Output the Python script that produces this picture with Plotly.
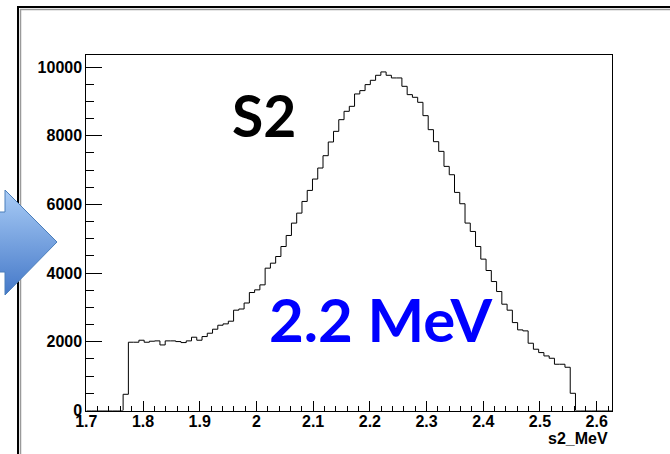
import numpy as np
import plotly.graph_objects as go

# ---------------- data ----------------
x_min = 1.7
x_max = 2.6275
n_bins = 100
first_bin = 7          # index of the first non-empty bin
counts = [
    472, 1988, 1988, 2046, 1988, 2017, 2027, 1909, 2027, 2027,
    2007, 1978, 2027, 2134, 2046, 2153, 2250, 2367, 2483, 2522,
    2600, 2921, 2955, 3130, 3435, 3513, 3658, 4144, 4290, 4484,
    4775, 5096, 5456, 5747, 6087, 6408, 6739, 7060, 7419, 7818,
    8128, 8468, 8711, 8856, 9217, 9314, 9489, 9614, 9760, 9858,
    9760, 9683, 9683, 9439, 9197, 9119, 8973, 8585, 8177, 7827,
    7545, 7108, 6865, 6350, 6020, 5457, 5213, 4775, 4407, 4076,
    3755, 3464, 3095, 2921, 2560, 2347, 2318, 1959, 1784, 1686,
    1589, 1521, 1347, 1347, 1259, 501,
]
x_tick_vals = [1.7, 1.8, 1.9, 2.0, 2.1, 2.2, 2.3, 2.4, 2.5, 2.6]
y_tick_vals = [0, 2000, 4000, 6000, 8000, 10000]
x_title = "s2_MeV"
label_s2 = "S2"
label_energy = "2.2 MeV"

# ---------------- geometry ----------------
W, H = 670, 454
plot_l, plot_r, plot_t, plot_b = 86.3, 612.3, 55.0, 410.5

bw = (x_max - x_min) / n_bins
full = np.zeros(n_bins)
full[first_bin:first_bin + len(counts)] = counts
edges = x_min + bw * np.arange(n_bins + 1)
ys = np.append(full, full[-1])
y_max = 1.05 * max(counts)

fig = go.Figure()

# histogram outline
fig.add_trace(go.Scatter(
    x=edges, y=ys, mode="lines",
    line=dict(shape="hv", color="black", width=1),
    hoverinfo="skip", showlegend=False,
))

# decorative block arrow on a full-page pixel axis
ax_x = [-5, 5, 5, 57, 5, 5, -5, -5]
ax_y = [212, 212, 190, 242, 295, 272, 272, 212]
fig.add_trace(go.Scatter(
    x=ax_x, y=ax_y, xaxis="x2", yaxis="y2", mode="lines",
    fill="toself",
    fillgradient=dict(type="vertical",
                      colorscale=[[0, "#4478C8"], [1, "#A9CCF6"]]),
    line=dict(color="#4A7EBB", width=1),
    hoverinfo="skip", showlegend=False,
))

tick_font = dict(family="Liberation Sans, Arial, sans-serif", size=16,
                 color="black", weight="bold")

fig.update_layout(
    width=W, height=H,
    margin=dict(l=0, r=0, t=0, b=0, pad=0, autoexpand=False),
    paper_bgcolor="white", plot_bgcolor="rgba(0,0,0,0)",
    showlegend=False,
    xaxis=dict(
        domain=[plot_l / W, plot_r / W],
        range=[x_min, x_max], automargin=False,
        showline=True, mirror=True, linecolor="black", linewidth=1,
        showgrid=False, zeroline=False,
        ticks="inside", ticklen=10, tickwidth=1, tickcolor="black",
        tickmode="array", tickvals=x_tick_vals,
        ticklabelstandoff=-4,
        minor=dict(ticks="inside", ticklen=5, tickwidth=1, tickcolor="black",
                   dtick=0.02, tick0=x_min, showgrid=False),
        tickfont=tick_font,
    ),
    yaxis=dict(
        domain=[(H - plot_b) / H, (H - plot_t) / H],
        range=[0, y_max], automargin=False,
        showline=True, mirror=True, linecolor="black", linewidth=1,
        showgrid=False, zeroline=False,
        ticks="inside", ticklen=16, tickwidth=1, tickcolor="black",
        tickmode="array", tickvals=y_tick_vals, tickformat="d",
        minor=dict(ticks="inside", ticklen=8, tickwidth=1, tickcolor="black",
                   dtick=500, tick0=0, showgrid=False),
        tickfont=tick_font,
    ),
    xaxis2=dict(domain=[0, 1], range=[0, W], visible=False, anchor="y2",
                fixedrange=True, automargin=False),
    yaxis2=dict(domain=[0, 1], range=[H, 0], visible=False, anchor="x2",
                fixedrange=True, automargin=False),
)

# outer slide frame lines (pixel coords)
fig.add_shape(type="line", xref="x2", yref="y2", x0=18, x1=W, y0=7, y1=7,
              line=dict(color="black", width=2), layer="below")
fig.add_shape(type="line", xref="x2", yref="y2", x0=20, x1=W, y0=9.5, y1=9.5,
              line=dict(color="#9a9a9a", width=1.5), layer="below")
fig.add_shape(type="line", xref="x2", yref="y2", x0=18, x1=18, y0=6, y1=H,
              line=dict(color="black", width=2), layer="below")
fig.add_shape(type="line", xref="x2", yref="y2", x0=20.5, x1=20.5, y0=9, y1=H,
              line=dict(color="#9a9a9a", width=1.5), layer="below")

# texts
fig.add_annotation(x=264, y=115, xref="x2", yref="y2", text=label_s2,
                   showarrow=False, xanchor="center", yanchor="middle",
                   font=dict(family="Lato", size=57, color="black", weight="bold"))
fig.add_annotation(x=381, y=319, xref="x2", yref="y2", text=label_energy,
                   showarrow=False, xanchor="center", yanchor="middle",
                   font=dict(family="Lato", size=60, color="#0000FF", weight="bold"))
fig.add_annotation(x=610, y=438, xref="x2", yref="y2", text=x_title,
                   showarrow=False, xanchor="right", yanchor="middle",
                   font=tick_font)

fig.write_html("out.html")
